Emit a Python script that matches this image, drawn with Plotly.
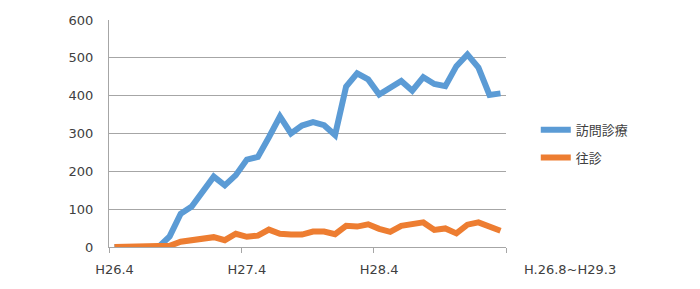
import plotly.graph_objects as go

months = ["H26.4","H26.5","H26.6","H26.7","H26.8","H26.9","H26.10","H26.11","H26.12","H27.1","H27.2","H27.3",
          "H27.4","H27.5","H27.6","H27.7","H27.8","H27.9","H27.10","H27.11","H27.12","H28.1","H28.2","H28.3",
          "H28.4","H28.5","H28.6","H28.7","H28.8","H28.9","H28.10","H28.11","H28.12","H29.1","H29.2","H29.3"]
homon = [0,0,0,0,0,28,88,107,145,186,163,190,
         231,238,290,345,300,321,330,322,296,424,459,443,
         403,419,439,413,449,431,425,478,509,474,402,406]
oushin = [0,0,0,0,0,3,14,18,20,26,18,35,
          27,30,46,35,33,33,41,41,34,56,54,60,
          48,40,56,59,65,45,49,36,59,65,53,43]
tick_labels = ["H26.4","H27.4","H28.4"]
tick_idx = [0, 12, 24]
boundary_idx = [-0.5, 11.5, 23.5, 35.5]
yticks = [0,100,200,300,400,500,600]
period_text = "H.26.8~H29.3"

x = list(range(len(months)))

fig = go.Figure()
fig.add_trace(go.Scatter(x=x, y=homon, mode="lines", name="訪問診療",
                         line=dict(color="#5B9BD5", width=6), legendgroup="a"))
fig.add_trace(go.Scatter(x=x, y=oushin, mode="lines", name="往診",
                         line=dict(color="#ED7D31", width=6), legendgroup="b"))

fig.update_layout(
    width=700, height=289,
    margin=dict(l=109, r=194, t=20, b=42),
    paper_bgcolor="white", plot_bgcolor="white",
    font=dict(family="DejaVu Sans", size=13, color="#404040"),
    legend=dict(x=1.075, y=0.455, xanchor="left", yanchor="middle",
                font=dict(family="Noto Sans CJK JP", size=13, color="#404040"),
                tracegroupgap=8, traceorder="grouped", bgcolor="rgba(0,0,0,0)"),
    xaxis=dict(range=[-0.5, 35.5], tickmode="array", tickvals=tick_idx, ticktext=tick_labels,
               ticks="outside", ticklen=5, tickcolor="rgba(0,0,0,0)",
               showgrid=False, zeroline=False, showline=True, linecolor="#a6a6a6",
               linewidth=1, ticklabelstandoff=5,
               minor=dict(tickmode="array", tickvals=boundary_idx, ticks="outside",
                          ticklen=5, tickcolor="#a6a6a6", tickwidth=1, showgrid=False)),
    yaxis=dict(range=[0, 600], tickmode="array", tickvals=yticks, ticks="",
               showgrid=True, gridcolor="#a6a6a6", gridwidth=1, zeroline=False,
               showline=True, linecolor="#a6a6a6", linewidth=1, ticklabelstandoff=12),
    annotations=[dict(text=period_text, xref="paper", yref="paper", x=1.04, y=0,
                      xanchor="left", yanchor="top", yshift=-13, showarrow=False,
                      font=dict(family="DejaVu Sans", size=13, color="#404040"))],
)

fig.write_html("out.html")
